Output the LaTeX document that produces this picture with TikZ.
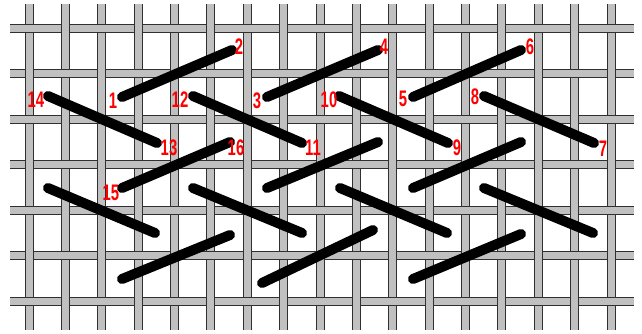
\documentclass[tikz,border=0pt]{standalone}
\usepackage{fontspec}
\newfontfamily\lblfont[FakeStretch=0.66]{Liberation Sans}
\definecolor{thread}{HTML}{C0C0C0}
\definecolor{edge}{HTML}{303030}
\definecolor{lblred}{HTML}{FF0000}
\tikzset{
  threadedge/.style={draw=edge,line width=9pt,line cap=butt},
  threadfill/.style={draw=thread,line width=7pt,line cap=butt},
  stitch/.style={draw=black,line width=10pt,line cap=round},
  lbl/.style={text=lblred,inner sep=0pt,font=\lblfont\bfseries\fontsize{22.5}{22.5}\selectfont}
}
\begin{document}
\begin{tikzpicture}[x=1pt,y=-1pt]
\useasboundingbox (0,0) rectangle (642,334);
\fill[white] (0,0) rectangle (642,334);
% vertical threads
\foreach \i in {0,...,16}{
  \pgfmathsetmacro{\vx}{floor(29+36.38*\i)+0.5}
  \draw[threadedge] (\vx,4) -- (\vx,330);
  \draw[threadfill] (\vx,4) -- (\vx,330);
}
% horizontal threads
\foreach \r in {0,...,6}{
  \pgfmathsetmacro{\hy}{floor(28+45.5*\r)+0.5}
  \draw[threadedge] (10,\hy) -- (634,\hy);
  \draw[threadfill] (10,\hy) -- (634,\hy);
}
% crossings where the vertical thread lies on top
\foreach \r in {0,...,6}{
  \foreach \i in {0,...,16}{
    \pgfmathparse{int(mod(\i+\r,2))}
    \ifnum\pgfmathresult=1
      \pgfmathsetmacro{\vx}{floor(29+36.38*\i)+0.5}
      \pgfmathsetmacro{\hy}{floor(28+45.5*\r)+0.5}
      \draw[threadedge] (\vx,\hy-6) -- (\vx,\hy+6);
      \draw[threadfill] (\vx,\hy-7) -- (\vx,\hy+7);
    \fi
  }
}
% stitches
\draw[stitch] (122,97) -- (232,50);
\draw[stitch] (267,97) -- (378,50);
\draw[stitch] (413,97) -- (521,50);
\draw[stitch] (48,96) -- (157,143);
\draw[stitch] (193,96) -- (302,143);
\draw[stitch] (339,96) -- (448,143);
\draw[stitch] (484,96) -- (594,143);
\draw[stitch] (122,188) -- (230,142);
\draw[stitch] (267,188) -- (378,142);
\draw[stitch] (413,188) -- (521,142);
\draw[stitch] (48,188) -- (155,233);
\draw[stitch] (193,188) -- (302,233);
\draw[stitch] (340,188) -- (447,233);
\draw[stitch] (484,188) -- (593,233);
\draw[stitch] (122,279) -- (230,235);
\draw[stitch] (262,283) -- (373,230);
\draw[stitch] (413,279) -- (521,234);
% labels
\node[lbl] (n1) at (113,101) {1};
\node[lbl] (n2) at (239,47) {2};
\node[lbl] (n3) at (257,101) {3};
\node[lbl] (n4) at (384,47) {4};
\node[lbl] (n5) at (403,99) {5};
\node[lbl] (n6) at (530,47) {6};
\node[lbl] (n7) at (603,149) {7};
\node[lbl] (n8) at (475,97) {8};
\node[lbl] (n9) at (457,148) {9};
\node[lbl] (n10) at (329,100) {10};
\node[lbl] (n11) at (313,148) {11};
\node[lbl] (n12) at (180,100) {12};
\node[lbl] (n13) at (169,148) {13};
\node[lbl] (n14) at (36,100) {14};
\node[lbl] (n15) at (111,193) {15};
\node[lbl] (n16) at (236,148) {16};
\end{tikzpicture}
\end{document}
